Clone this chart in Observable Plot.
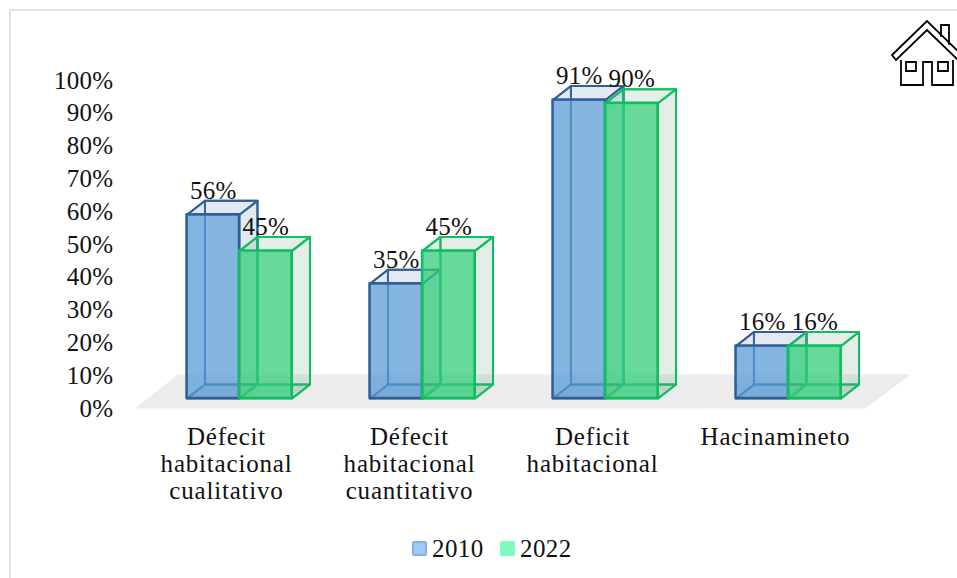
<!DOCTYPE html>
<html>
<head>
<meta charset="utf-8">
<script src="https://cdn.jsdelivr.net/npm/d3@7"></script>
<script src="https://cdn.jsdelivr.net/npm/@observablehq/plot@0.6"></script>
<style>
html,body{margin:0;padding:0;background:#fff;overflow:hidden}
#frame{position:absolute;left:9px;top:9px;width:1000px;height:700px;border-left:2px solid #e2e2e2;border-top:2px solid #e2e2e2;box-sizing:border-box}
#chart{position:absolute;left:0;top:0}
#chart svg{display:block}
#chart g[aria-label="x-axis tick label"]{letter-spacing:.8px}
#legend{position:absolute;left:0;top:525px;width:957px;height:48px;font:25px "Liberation Serif",serif;letter-spacing:.4px;color:#111}
.sw{position:absolute;top:16px;width:15px;height:15px;box-sizing:border-box;border-radius:2px}
.lb{position:absolute;top:10px;line-height:27px}
#house{position:absolute;left:0;top:0}
</style>
</head>
<body>
<div id="frame"></div>
<div id="chart"></div>
<div id="legend">
  <span class="sw" style="left:412px;background:#9acbfb;border:2px solid #8ab0d8"></span><span class="lb" style="left:432px" id="l0"></span>
  <span class="sw" style="left:500px;background:#80fbbd"></span><span class="lb" style="left:520px" id="l1"></span>
</div>
<svg id="house" width="957" height="100" fill="none" stroke="#000" stroke-width="1.8">
  <path d="M901 60V85H923V62H932V85H953V60"/>
  <path d="M906 62H916V71H906ZM938 62H948V71H938Z"/>
  <path d="M941 37V25H949V45"/>
  <path d="M892 55L927 21L962 55L958 60L927 30L896 60Z"/>
</svg>
<script>
const categories = ["Défecit\nhabitacional\ncualitativo", "Défecit\nhabitacional\ncuantitativo", "Deficit\nhabitacional", "Hacinamineto"];
const years = ["2010", "2022"];
const values2010 = [56, 35, 91, 16];
const values2022 = [45, 45, 90, 16];
const yTicks = [0, 10, 20, 30, 40, 50, 60, 70, 80, 90, 100];

document.getElementById("l0").textContent = years[0];
document.getElementById("l1").textContent = years[1];

const FONT = "Liberation Serif";
const barW = 0.287, depthX = 0.0982, depthY = 4.27;

function faces(values, x0) {
  const rows = [];
  values.forEach((v, i) => {
    const a = i + x0, b = a + barW, c = a + depthX, d = b + depthX, t = v + depthY, h = depthY;
    const add = (name, pts) => pts.forEach(([x, y]) => rows.push({face: i + name, kind: name, x, y}));
    add("back", [[c,h],[d,h],[d,t],[c,t],[c,h]]);
    add("left", [[a,0],[c,h],[c,t],[a,v],[a,0]]);
    add("bottom", [[a,0],[b,0],[d,h],[c,h],[a,0]]);
    add("top", [[a,v],[b,v],[d,t],[c,t],[a,v]]);
    add("right", [[b,0],[d,h],[d,t],[b,v],[b,0]]);
  });
  return rows;
}
function box(values, x0, stroke, fill, sideFill) {
  const rows = faces(values, x0);
  const rects = values.map((v, i) => ({x1: i + x0, x2: i + x0 + barW, v}));
  return [
    Plot.line(rows.filter(r => r.kind === "back" || r.kind === "left"), {x:"x", y:"y", z:"face", stroke, strokeWidth:2, strokeOpacity:0.9}),
    Plot.line(rows.filter(r => r.kind === "bottom" || r.kind === "top" || r.kind === "right"), {x:"x", y:"y", z:"face", stroke, strokeWidth:2, fill:sideFill, fillOpacity:0.17, strokeLinejoin:"round"}),
    Plot.rect(rects, {x1:"x1", x2:"x2", y1:0, y2:"v", fill, fillOpacity:0.75, stroke, strokeWidth:2.4, strokeLinejoin:"round"})
  ];
}
const floorRows = [[-0.5715,-3.05],[3.4185,-3.05],[3.668,7.3],[-0.3365,7.3],[-0.5715,-3.05]].map(([x,y]) => ({x,y}));
const labelRows = [
  ...values2010.map((v,i) => ({x:i - barW/2, v})),
  ...values2022.map((v,i) => ({x:i + barW/2, v}))
];

const plot = Plot.plot({
  width: 957, height: 525,
  marginLeft: 120, marginRight: 0, marginTop: 0, marginBottom: 105,
  style: {fontFamily: FONT, fontSize: "25px", letterSpacing: "0.3px", background: "transparent", color: "#111", overflow:"visible"},
  x: {type:"linear", domain:[0,3], range:[239,788]},
  y: {domain:[0,100], range:[398,70]},
  marks: [
    Plot.line(floorRows, {x:"x", y:"y", fill:"#ececec", stroke:"none"}),
    ...box(values2010, -barW, "#2f5f94", "#5b9bd5", "#5b7fb5"),
    ...box(values2022, 0, "#10bd5f", "#33cc7a", "#5a9a7a"),
    Plot.axisY({ticks:yTicks, tickFormat:d => d + "%", tickSize:0, tickPadding:7, dy:10, label:null, fontSize:25}),
    Plot.axisX({ticks:[0,1,2,3], tickFormat:i => categories[i], tickSize:0, tickPadding:5.5, dx:-13, label:null, lineHeight:1.08, fontSize:25, lineAnchor:"top", textOverflow:null}),
    Plot.text(labelRows, {x:"x", y:"v", text:d => d.v + "%", dy:-24, fontSize:25, fill:"#111"})
  ]
});
document.getElementById("chart").appendChild(plot);
</script>
</body>
</html>
